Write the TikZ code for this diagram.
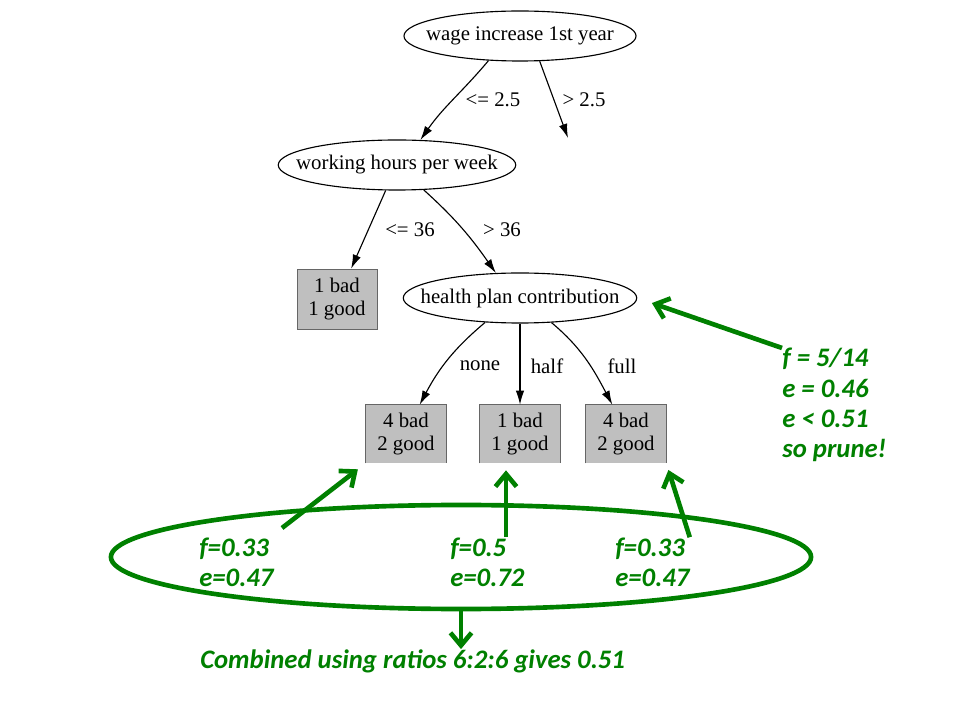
\documentclass[tikz,border=0pt]{standalone}
\usepackage{fontspec}
\setmainfont{Liberation Serif}
\newfontfamily\notefont{Carlito}
\usepackage{tikz}
\usetikzlibrary{shapes.geometric,arrows.meta}
\definecolor{notegreen}{RGB}{0,128,0}
\tikzset{
  split/.style={ellipse, draw, line width=0.8pt, minimum width=5.8cm, minimum height=1.25cm, inner xsep=-12pt, inner ysep=0pt},
  leaf/.style={rectangle, fill=black!25, draw=black!60, minimum width=2cm, minimum height=1.5cm, align=center, inner sep=0pt},
  cutleaf/.style={rectangle, fill=black!25, minimum width=2cm, minimum height=1.45cm, align=center, inner sep=0pt},
  branch/.style={-{Latex[length=10pt,width=6pt]}, line width=0.8pt},
  note/.style={notegreen, inner sep=0pt, align=left, font=\notefont\bfseries\itshape\fontsize{19}{21.5}\selectfont},
  pointer/.style={notegreen, line width=3.3pt, -{Straight Barb[length=9pt,width=15pt]}}
}

\begin{document}
\begin{tikzpicture}[x=0.025cm, y=-0.025cm, font=\fontsize{14.8}{17}\selectfont]
		  \useasboundingbox (0,0) rectangle (960,720);

		  % Draw the tree
		  \node[split] (wage) at (520,36) {wage increase 1st year};
		  \node[split] (work) at (397,165) {working hours per week};
		  \node[split] (health) at (520,298) {health plan contribution};
		  \node[leaf] (leaf1) at (337,299) {1 bad\\1 good};
		  \node[cutleaf] (leafA) at (406,434) {4 bad\\2 good};
		  \node[cutleaf] (leafB) at (520,434) {1 bad\\1 good};
		  \node[cutleaf] (leafC) at (626,434) {4 bad\\2 good};
		  \foreach \n in {leafA,leafB,leafC}
		    \draw[black!60] (\n.south west) |- (\n.north east) -- (\n.south east);
		  \coordinate (right) at (568,138);

		  % Branches and their labels
		  \draw[branch] (wage.218) to[out=-130, in=55] (work.47);
		  \draw[branch] (wage.308) -- (right);
		  \draw[branch] (work.246) -- (leaf1.65);
		  \draw[branch] (work.317) to[out=-42, in=125] (health.134);
		  \draw[branch] (health.215) to[out=-140, in=62] (leafA.65);
		  \draw[branch] (health.south) -- (leafB.north);
		  \draw[branch] (health.322) to[out=-40, in=118] (leafC.115);
		  \node (le25) at (493,100) {<= 2.5};
		  \node (gt25) at (584,100) {> 2.5};
		  \node (le36) at (410,230) {<= 36};
		  \node (gt36) at (502,230) {> 36};
		  \node (none) at (480,366) {none};
		  \node (half) at (547,366) {half};
		  \node (full) at (622,366) {full};

		  % Error estimates for the three leaves
		  \node[note, anchor=west] (fA) at (199,562) {f=0.33\\e=0.47};
		  \node[note, anchor=west] (fB) at (450,562) {f=0.5\\e=0.72};
		  \node[note, anchor=west] (fC) at (615,562) {f=0.33\\e=0.47};
		  \node[ellipse, draw=notegreen, line width=3.3pt, minimum width=17.5cm, minimum height=2.6cm] (group) at (461,557) {};
		  \coordinate (tailA) at (282,528);
		  \coordinate (tipB) at ([xshift=-0.35cm]leafB.south);
		  \draw[pointer, shorten >=7pt] (tailA) -- (leafA.south west);
		  \draw[pointer, shorten >=5pt] (tipB |- fB.north) -- (tipB);
		  \draw[pointer, shorten >=5pt] (fC.north east) -- (leafC.south east);

		  % Estimate for the subtree and the verdict
		  \node[note, anchor=west] (verdict) at (782,405) {f = 5/14\\e = 0.46\\e < 0.51\\so prune!};
		  \draw[pointer, shorten >=11pt] (verdict.north west) -- (health.east);
		  \node[note, anchor=west] (comb) at (200,661) {Combined using ratios 6:2:6 gives 0.51};
		  \draw[pointer] (group.south) -- (group.south |- comb.north);
		\end{tikzpicture}
\end{document}
